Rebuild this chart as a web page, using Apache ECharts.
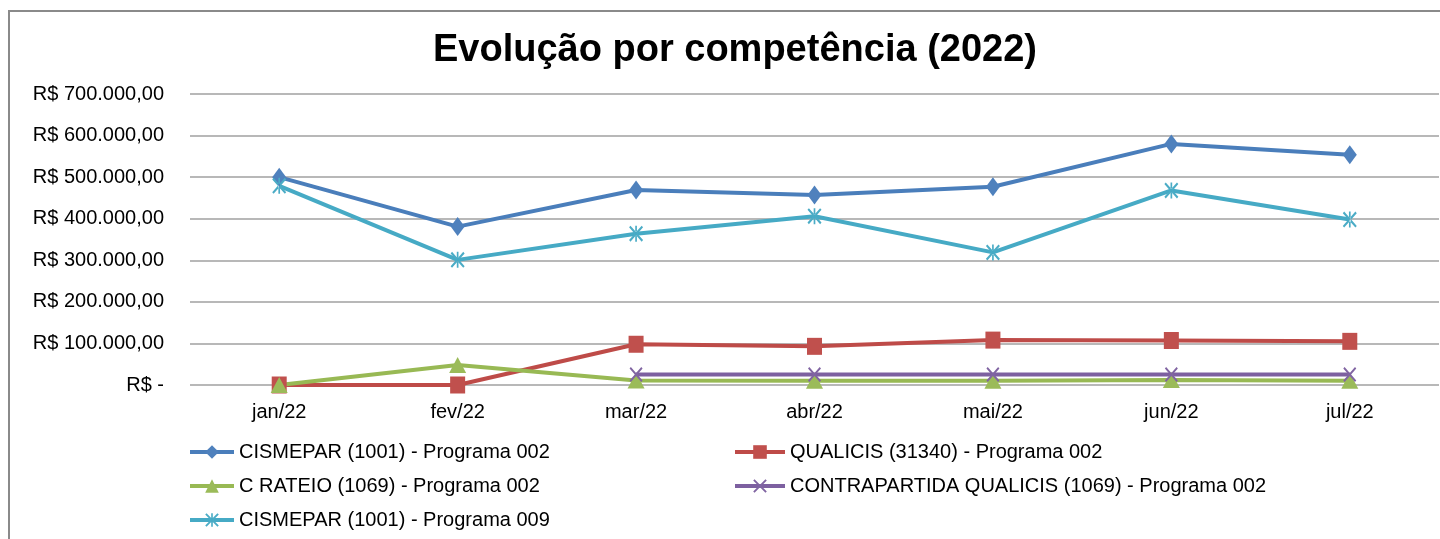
<!DOCTYPE html>
<html>
<head>
<meta charset="utf-8">
<script src="https://cdn.jsdelivr.net/npm/echarts@6/dist/echarts.min.js"></script>
<style>
html,body{margin:0;padding:0;background:#fff;}
#chart{width:1440px;height:539px;}
</style>
</head>
<body>
<div id="chart"></div>
<script>
const categories = ['jan/22','fev/22','mar/22','abr/22','mai/22','jun/22','jul/22'];
const cismepar002 = [500000, 381000, 469000, 457000, 477000, 580000, 554000];
const qualicis = [0, 0, 98000, 93000, 108000, 107000, 105000];
const cRateio = [0, 48000, 11000, 10000, 10000, 12000, 10000];
const contrapartida = [null, null, 25000, 25000, 25000, 25000, 25000];
const cismepar009 = [479000, 301000, 364000, 406000, 319000, 468000, 398000];
const yTicks = [0, 100000, 200000, 300000, 400000, 500000, 600000, 700000];
const yTickLabels = ['R$ -', 'R$ 100.000,00', 'R$ 200.000,00', 'R$ 300.000,00', 'R$ 400.000,00', 'R$ 500.000,00', 'R$ 600.000,00', 'R$ 700.000,00'];
const seriesNames = ['CISMEPAR (1001) - Programa 002', 'QUALICIS (31340) - Programa 002', 'C RATEIO (1069) - Programa 002', 'CONTRAPARTIDA QUALICIS (1069) - Programa 002', 'CISMEPAR (1001) - Programa 009'];

const FONT = '"Liberation Sans", Arial, sans-serif';
const xSym = 'path://M0,1 L1,0 L5,4 L9,0 L10,1 L6,5 L10,9 L9,10 L5,6 L1,10 L0,9 L4,5 Z';
const starSym = 'path://M0,1 L1,0 L5,4 L9,0 L10,1 L6,5 L10,9 L9,10 L5,6 L1,10 L0,9 L4,5 Z M4.4,0 L4.4,10 L5.6,10 L5.6,0 Z';

function mk(name, data, color, lineColor, symbol, size) {
  return {
    name: name, type: 'line', data: data, symbol: symbol, symbolSize: size,
    showSymbol: true, connectNulls: false,
    lineStyle: { color: lineColor, width: 4 },
    itemStyle: { color: color, borderColor: color, borderWidth: 0 },
    emphasis: { disabled: true }
  };
}

const legendCommon = {
  orient: 'vertical', top: 437, itemGap: 14, itemHeight: 17,
  textStyle: { fontSize: 20, color: '#000', fontFamily: FONT },
  lineStyle: { width: 4 },
  selectedMode: false
};

const chart = echarts.init(document.getElementById('chart'));
chart.setOption({
  animation: false,
  backgroundColor: '#ffffff',
  textStyle: { fontFamily: FONT },
  title: {
    text: 'Evolução por competência (2022)',
    left: 428, top: 27,
    textStyle: { fontFamily: FONT, fontSize: 38, fontWeight: 'bold', color: '#000' }
  },
  graphic: [{
    type: 'polyline', z: 100, silent: true,
    shape: { points: [[9, 700], [9, 11], [1600, 11]] },
    style: { fill: 'none', stroke: '#8a8a8a', lineWidth: 2 }
  }],
  grid: { left: 190, right: 1, top: 94, bottom: 154, containLabel: false },
  xAxis: {
    type: 'category', data: categories, boundaryGap: true,
    axisLine: { show: false }, axisTick: { show: false },
    axisLabel: { color: '#000', fontSize: 20, fontFamily: FONT, margin: 17 }
  },
  yAxis: {
    type: 'value', min: 0, max: 700000, interval: 100000,
    axisLine: { show: false }, axisTick: { show: false },
    splitLine: { lineStyle: { color: '#a0a0a0', width: 1.5 } },
    axisLabel: {
      color: '#000', fontSize: 20, fontFamily: FONT, margin: 26,
      formatter: function (v) { const i = yTicks.indexOf(v); return i >= 0 ? yTickLabels[i] : ''; }
    }
  },
  legend: [Object.assign({}, legendCommon, {
    data: [seriesNames[0], seriesNames[2], seriesNames[4]],
    left: 183, itemWidth: 44
  }), Object.assign({}, legendCommon, {
    data: [seriesNames[1], seriesNames[3]],
    left: 728, itemWidth: 50
  })],
  series: [
    mk(seriesNames[0], cismepar002, '#4F81BD', '#4A7EBB', 'diamond', [14, 19]),
    mk(seriesNames[1], qualicis, '#C0504D', '#BE4B48', 'rect', [15, 17]),
    mk(seriesNames[2], cRateio, '#9BBB59', '#98B954', 'triangle', [17, 16]),
    mk(seriesNames[3], contrapartida, '#8064A2', '#7D60A0', xSym, [13, 15]),
    mk(seriesNames[4], cismepar009, '#4BACC6', '#46AAC5', starSym, [14, 16])
  ]
});
</script>
</body>
</html>
